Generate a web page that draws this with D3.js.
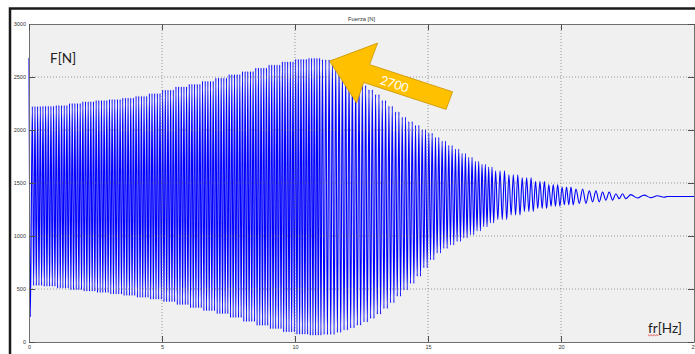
<!DOCTYPE html>
<html>
<head>
<meta charset="utf-8">
<script src="https://cdn.jsdelivr.net/npm/d3@7"></script>
<style>
  body { margin: 0; background: #fff; }
  svg { display: block; }
</style>
</head>
<body>
<div id="chart"></div>
<script>
// axis ticks
const xTicks = [0, 5, 10, 15, 20, 25];
const yTicks = [0, 500, 1000, 1500, 2000, 2500, 3000];

// start transient (Hz, N)
const spikeHz = [0, 0.05];
const spikeN = [2680, 236];

// envelope read per frequency bin: bin start (Hz), peak max / min (N), oscillations in the bin
// (quarter-Hz bins where the envelope falls fast after resonance)
const binHz = [0.1, 0.5, 1, 1.5, 2, 2.5, 3, 3.5, 4, 4.5, 5, 5.5, 6, 6.5, 7, 7.5, 8, 8.5, 9, 9.5,
  10, 10.5, 11,
  11.5, 11.75, 12, 12.25, 12.5, 12.75, 13, 13.25, 13.5, 13.75, 14, 14.25,
  14.5, 14.75, 15, 15.25, 15.5, 15.75, 16, 16.25, 16.5, 16.75, 17, 17.25,
  17.5, 18, 18.5, 19, 19.5, 20, 20.5, 21, 21.5, 22, 22.5, 23, 23.5];
const upperN = [2222, 2226, 2232, 2250, 2268, 2280, 2290, 2302, 2320, 2345, 2378, 2408, 2432, 2460, 2492, 2524, 2553, 2585, 2615, 2645,
  2668, 2678, 2665,
  2625, 2555, 2505, 2460, 2420, 2380, 2335, 2280, 2225, 2170, 2122, 2080,
  2045, 2005, 1970, 1930, 1895, 1856, 1820, 1780, 1742, 1705, 1676, 1650,
  1615, 1578, 1548, 1515, 1486, 1462, 1444, 1426, 1415, 1398, 1390, 1386, 1380];
const lowerN = [532, 525, 508, 492, 479, 466, 452, 438, 420, 402, 380, 352, 322, 294, 266, 230, 192, 156, 125, 95,
  72, 63, 70,
  90, 112, 132, 158, 188, 222, 262, 315, 370, 430, 490, 552,
  620, 700, 775, 840, 882, 915, 948, 982, 1012, 1048, 1088, 1122,
  1155, 1198, 1232, 1260, 1280, 1294, 1308, 1322, 1338, 1352, 1358, 1362, 1366];
const cyclesPerBin = [4, 5, 5, 5, 5, 5, 5, 5, 5, 5, 5, 5, 5, 5, 5, 5, 5, 5, 5, 5,
  5, 5, 4,
  2, 2, 2, 2, 2, 2, 2, 2, 2, 2, 2, 2,
  2, 2, 2, 2, 2, 2, 2, 2, 2, 2, 2, 2,
  3, 3, 3, 3, 3, 3, 2, 2, 2, 2, 1, 1, 1];

// settled value after the sweep
const tailHz = [24, 25];
const tailN = [1372, 1372];

const W = 695, H = 354;
const margin = { top: 24, right: 1, bottom: 12, left: 29 };

const svg = d3.select('#chart')
  .append('svg')
  .attr('width', W)
  .attr('height', H);

// figure frame
svg.append('rect')
  .attr('x', 10).attr('y', 8.5)
  .attr('width', W + 20).attr('height', H + 20)
  .attr('fill', '#fff')
  .attr('stroke', '#1a1a1a')
  .attr('stroke-width', 2.5);

const x = d3.scaleLinear().domain([0, 25]).range([margin.left, W - margin.right]);
const y = d3.scaleLinear().domain([0, 3000]).range([H - margin.bottom, margin.top]);

// plot background
svg.append('rect')
  .attr('x', x(0)).attr('y', y(3000))
  .attr('width', x(25) - x(0)).attr('height', y(0) - y(3000))
  .attr('fill', '#f0f0f0');

// build the trace: transient, then max/min of every oscillation inside each bin
const pts = spikeHz.map((h, i) => [h, spikeN[i]]);
binHz.forEach((h, i) => {
  const end = i < binHz.length - 1 ? binHz[i + 1] : tailHz[0];
  const sub = d3.scaleBand().domain(d3.range(cyclesPerBin[i])).range([h, end]);
  sub.domain().forEach(j => {
    pts.push([sub(j) + sub.bandwidth() * 0.25, upperN[i]]);
    pts.push([sub(j) + sub.bandwidth() * 0.75, lowerN[i]]);
  });
});
tailHz.forEach((h, i) => pts.push([h, tailN[i]]));

const line = d3.line()
  .x(d => x(d[0]))
  .y(d => y(d[1]))
  .curve(d3.curveMonotoneX);

svg.append('path')
  .datum(pts)
  .attr('d', line)
  .attr('fill', 'none')
  .attr('stroke', '#0000ff')
  .attr('stroke-width', 1.1);

// dotted grid
const grid = svg.append('g')
  .attr('stroke', '#5a5a5a')
  .attr('stroke-width', 0.6)
  .attr('stroke-dasharray', '1,2');
grid.selectAll('.gx')
  .data(xTicks.slice(1, -1))
  .enter().append('line')
  .attr('x1', d => x(d)).attr('x2', d => x(d))
  .attr('y1', y(3000)).attr('y2', y(0));
grid.selectAll('.gy')
  .data(yTicks.slice(1, -1))
  .enter().append('line')
  .attr('x1', x(0)).attr('x2', x(25))
  .attr('y1', d => y(d)).attr('y2', d => y(d));

// axes, MATLAB style ticks pointing inwards
const axisStyle = g => {
  g.selectAll('.domain').attr('stroke', '#707070');
  g.selectAll('.tick line').attr('stroke', '#505050');
  g.selectAll('.tick text')
    .attr('fill', '#333')
    .style('font-family', '"Liberation Sans", Arial, sans-serif')
    .style('font-size', '5.5px');
};

svg.append('g')
  .attr('transform', `translate(0,${y(0)})`)
  .call(d3.axisBottom(x).tickValues(xTicks).tickFormat(d3.format('d'))
    .tickSizeInner(-6).tickSizeOuter(0).tickPadding(3))
  .call(axisStyle);
svg.append('g')
  .attr('transform', `translate(${x(0)},0)`)
  .call(d3.axisLeft(y).tickValues(yTicks).tickFormat(d3.format('d'))
    .tickSizeInner(-6).tickSizeOuter(0).tickPadding(3))
  .call(axisStyle);
svg.append('g')
  .attr('transform', `translate(0,${y(3000)})`)
  .call(d3.axisTop(x).tickValues(xTicks).tickSizeInner(-6).tickSizeOuter(0).tickFormat(''))
  .call(axisStyle);
svg.append('g')
  .attr('transform', `translate(${x(25)},0)`)
  .call(d3.axisRight(y).tickValues(yTicks).tickSizeInner(-6).tickSizeOuter(0).tickFormat(''))
  .call(axisStyle);

// title
svg.append('text')
  .attr('x', (x(0) + x(25)) / 2)
  .attr('y', 19)
  .attr('dy', '0.35em')
  .attr('text-anchor', 'middle')
  .attr('fill', '#333')
  .style('font-family', '"Liberation Sans", Arial, sans-serif')
  .style('font-size', '5.8px')
  .text('Fuerza [N]');

// axis names typed on the figure
const labelFont = 'Lato, "Open Sans", sans-serif';
svg.append('text')
  .attr('x', 50).attr('y', 58)
  .attr('dy', '0.35em')
  .attr('fill', '#222')
  .style('font-family', labelFont)
  .style('font-size', '13.5px')
  .text('F[N]');

const frLabel = svg.append('text')
  .attr('x', 648).attr('y', 328)
  .attr('dy', '0.35em')
  .attr('fill', '#222')
  .style('font-family', labelFont)
  .style('font-size', '13.5px')
  .text('fr[Hz]');

// spell-check squiggle under "fr"
const frBox = frLabel.node().getBBox();
const squig = d3.range(0, 11, 1.5).map((d, i) => [frBox.x + d, frBox.y + frBox.height - 1 + (i % 2 ? 1 : 0)]);
svg.append('path')
  .attr('d', d3.line()(squig))
  .attr('fill', 'none')
  .attr('stroke', '#e02020')
  .attr('stroke-width', 0.7);

// callout arrow pointing at the maximum
const tip = [x(11.3), y(2650)];
const arrowShape = [[0, 0], [48, -18], [40, 3.5], [123, 30.7], [116.5, 48.3], [34, 21.3], [27, 42]];
svg.append('polygon')
  .attr('points', arrowShape.map(p => [tip[0] + p[0], tip[1] + p[1]].join(',')).join(' '))
  .attr('fill', '#ffc000')
  .attr('stroke', '#c99400')
  .attr('stroke-width', 0.8);

svg.append('text')
  .attr('transform', `translate(${tip[0] + 65},${tip[1] + 23}) rotate(18)`)
  .attr('text-anchor', 'middle')
  .attr('dy', '0.35em')
  .attr('fill', '#fff')
  .style('font-family', labelFont)
  .style('font-size', '12.5px')
  .text('2700');
</script>
</body>
</html>
